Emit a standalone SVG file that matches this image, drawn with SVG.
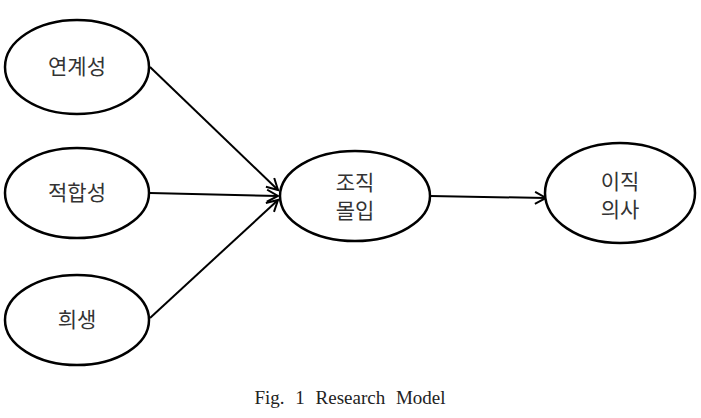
<svg xmlns="http://www.w3.org/2000/svg" width="701" height="418" viewBox="0 0 701 418">
<style>
.n{fill:#fff;stroke:#000;stroke-width:2.5}
.t{font-family:"Noto Sans CJK KR","Noto Sans",sans-serif;font-size:21px;fill:#333;text-anchor:middle}
.c{stroke:#000;stroke-width:2;fill:none;marker-end:url(#a)}
</style>
<defs><marker id="a" markerWidth="14" markerHeight="14" refX="12" refY="7" orient="auto" markerUnits="userSpaceOnUse"><path d="M1,1 L12,7 L1,13" fill="none" stroke="#000" stroke-width="2"/></marker></defs>
<rect width="701" height="418" fill="#fff"/>
<g id="connectors">
<path class="c" d="M150,67 L278,190"/>
<path class="c" d="M150,193 L278,196"/>
<path class="c" d="M150,318 L278,200"/>
<path class="c" d="M430,196 L546,198"/>
</g>
<g id="n1"><ellipse class="n" cx="77" cy="67" rx="72" ry="47"/><text class="t" x="77" y="74">연계성</text></g>
<g id="n2"><ellipse class="n" cx="77" cy="193" rx="72" ry="45"/><text class="t" x="77" y="200">적합성</text></g>
<g id="n3"><ellipse class="n" cx="77" cy="320" rx="72" ry="45"/><text class="t" x="77" y="327">희생</text></g>
<g id="n4"><ellipse class="n" cx="355" cy="196" rx="75" ry="45"/><text class="t" x="355" y="190">조직</text><text class="t" x="355" y="218">몰입</text></g>
<g id="n5"><ellipse class="n" cx="620" cy="193" rx="75" ry="50"/><text class="t" x="620" y="189">이직</text><text class="t" x="620" y="217">의사</text></g>
<text x="350" y="404" font-family="Liberation Serif,serif" font-size="19" word-spacing="6" text-anchor="middle" fill="#222">Fig. 1 Research Model</text>
</svg>
